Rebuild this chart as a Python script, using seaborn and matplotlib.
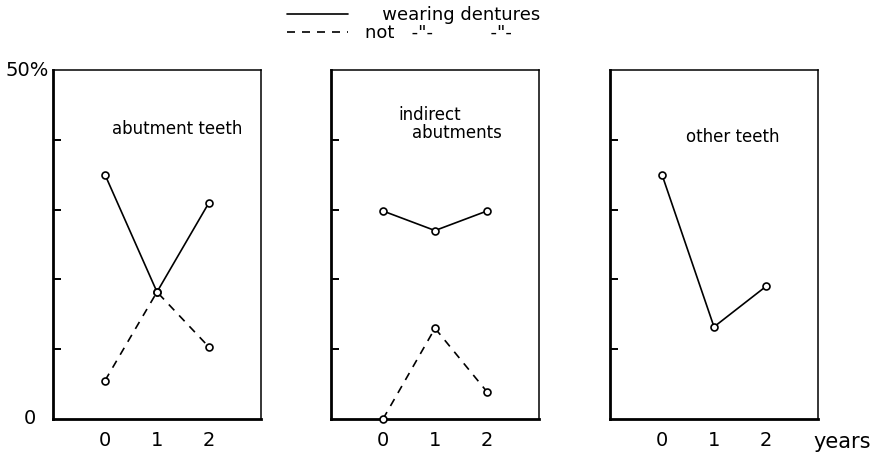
import matplotlib
matplotlib.use("Agg")
import matplotlib.pyplot as plt
from matplotlib.lines import Line2D
import seaborn as sns
import pandas as pd

years = [0, 1, 2]
panels = ["abutment teeth", "indirect\nabutments", "other teeth"]
abut_wearing = [35, 18.2, 31]
abut_not = [5.5, 18.2, 10.3]
indirect_wearing = [29.8, 27, 29.8]
indirect_not = [0, 13, 3.9]
other_wearing = [35, 13.2, 19]

rows = []
for p, series in [(panels[0], {"wearing": abut_wearing, "not": abut_not}),
                  (panels[1], {"wearing": indirect_wearing, "not": indirect_not}),
                  (panels[2], {"wearing": other_wearing})]:
    for status, vals in series.items():
        for yr, v in zip(years, vals):
            rows.append({"panel": p, "year": yr, "status": status, "pct": v})
df = pd.DataFrame(rows)

sns.set_style("white")
plt.rcParams["font.family"] = ["DejaVu Sans"]
plt.rcParams["text.color"] = "black"
plt.rcParams["xtick.color"] = "black"
plt.rcParams["ytick.color"] = "black"

fig = plt.figure(figsize=(8.89, 4.62), dpi=100)
lefts = [53, 331, 610]
axes = [fig.add_axes([l / 889, 43 / 462, 208 / 889, 349 / 462]) for l in lefts]

dash = (4.8, 4.2)
for ax, p in zip(axes, panels):
    sub = df[df["panel"] == p]
    sns.lineplot(data=sub, x="year", y="pct", style="status",
                 dashes={"wearing": "", "not": dash},
                 markers={"wearing": "o", "not": "o"},
                 color="black", lw=1.2, ms=5, mfc="white", mec="black", mew=1.2,
                 legend=False, ax=ax, clip_on=False, zorder=3)
    ax.set_xlim(-1, 3)
    ax.set_ylim(0, 50)
    ax.set_xticks(years)
    ax.set_yticks([10, 20, 30, 40])
    ax.set_yticklabels([])
    ax.set_xlabel("")
    ax.set_ylabel("")
    ax.tick_params(axis="x", direction="in", length=5, width=1.4, pad=9, labelsize=14)
    ax.tick_params(axis="y", direction="in", length=6, width=1.4, left=True)
    for s in ["left", "bottom"]:
        ax.spines[s].set_linewidth(2.0)
    for s in ["top", "right"]:
        ax.spines[s].set_linewidth(1.1)
    for s in ax.spines.values():
        s.set_color("black")

axes[0].text(1.38, 41.5, "abutment teeth", ha="center", va="center", fontsize=12)
axes[1].text(0.29, 43.5, "indirect", ha="left", va="center", fontsize=12)
axes[1].text(0.56, 41.0, "abutments", ha="left", va="center", fontsize=12)
axes[2].text(1.37, 40.4, "other teeth", ha="center", va="center", fontsize=12)

axes[0].text(-0.02, 1.0, "50%", transform=axes[0].transAxes, ha="right", va="center", fontsize=14)
axes[0].text(-0.08, 0.0, "0", transform=axes[0].transAxes, ha="right", va="center", fontsize=14)
axes[2].text(0.98, -0.066, "years", transform=axes[2].transAxes, ha="left", va="center", fontsize=15)

handles = [Line2D([], [], color="black", lw=1.2),
           Line2D([], [], color="black", lw=1.2, linestyle=(0, dash))]
labels = ["   wearing dentures", 'not   -"-          -"-']
fig.legend(handles, labels, loc="upper center", bbox_to_anchor=(0.465, 1.01),
           frameon=False, fontsize=13, handlelength=3.4, handletextpad=0.9,
           labelspacing=0.0, borderpad=0.1)

fig.savefig("out.png", dpi=100)
